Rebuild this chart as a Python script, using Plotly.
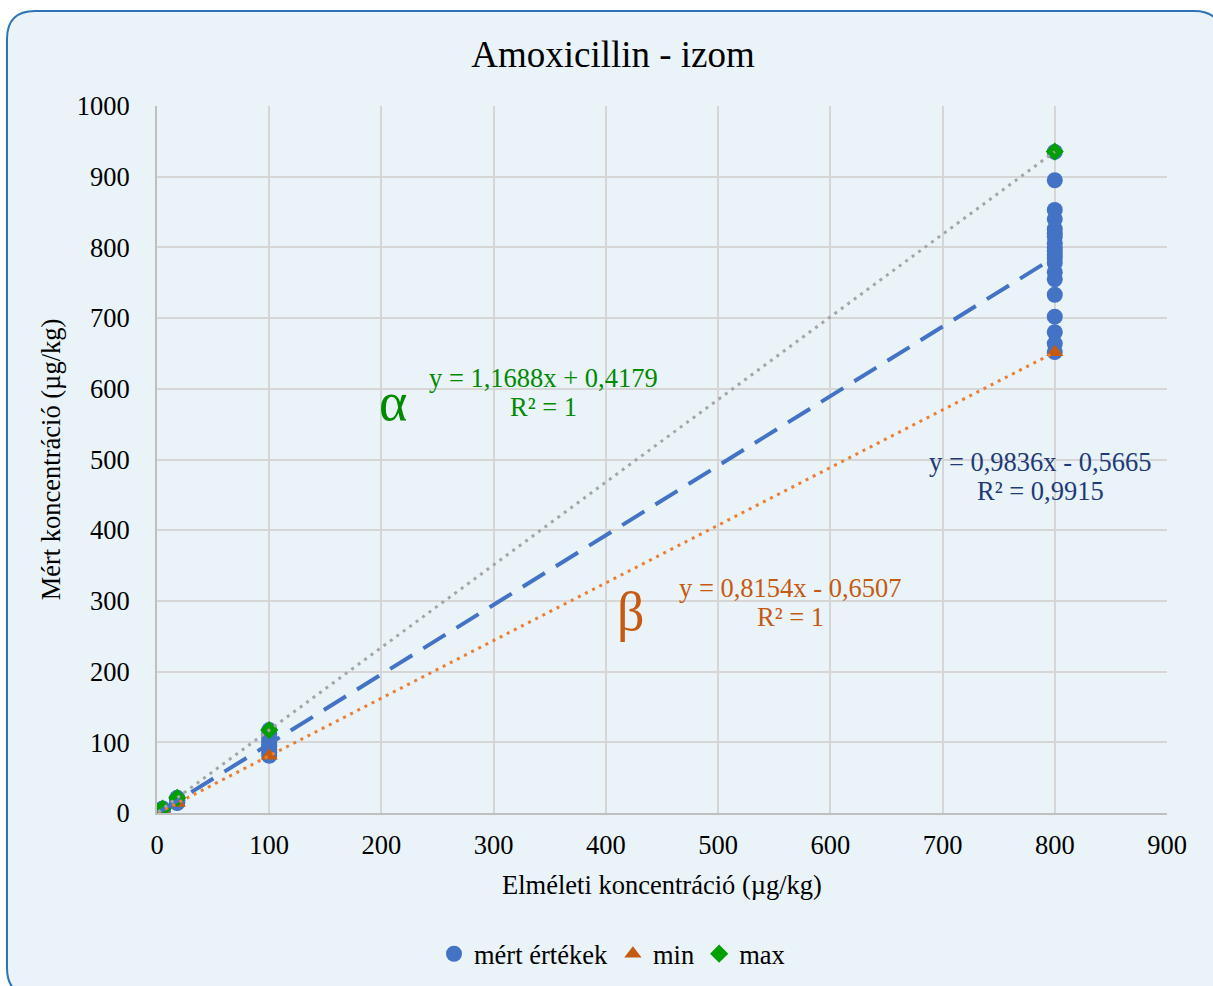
import plotly.graph_objects as go

# Nominal (spiked) concentrations, µg/kg
levels = [1, 5, 18, 100, 800]

# Measured values per nominal level
measured = {
    1: [1.6, 1.2, 1.0, 0.8, 0.5, 0.2],
    5: [6.3, 5.6, 5.0, 4.5, 4.0, 3.4],
    18: [21.4, 20.2, 19.0, 18.0, 17.0, 16.0, 15.0, 14.0],
    100: [117.3, 112, 108, 104, 100, 97, 94, 90, 86, 81],
    800: [935, 895, 853, 840, 826, 820, 815, 806, 800, 795, 790, 785, 778,
          765, 755, 733, 702, 680, 664, 652],
}

# Lowest and highest result at each level
min_vals = [0.2, 3.4, 14.0, 81.0, 651.7]
max_vals = [1.6, 6.3, 21.4, 117.3, 935.5]

# Linear trend coefficients (slope, intercept)
fit_all = (0.9836, -0.5665)
fit_min = (0.8154, -0.6507)
fit_max = (1.1688, 0.4179)

x_ticks = [0, 100, 200, 300, 400, 500, 600, 700, 800, 900]
y_ticks = [0, 100, 200, 300, 400, 500, 600, 700, 800, 900, 1000]

FONT = "Liberation Serif"
BLUE = "#4472C4"
ORANGE = "#C55A11"
ORANGE_LINE = "#ED7D31"
GREEN = "#00A000"
GREY = "#A5A5A5"
BG = "#E9F3F8"
TXT = 26.5

W, H = 1213, 986
ML, MR, MT, MB = 157, 46, 106, 173
PW, PH = W - ML - MR, H - MT - MB


def px_x(p):
    return (p - ML) / PW


def px_y(p):
    return (H - MB - p) / PH


mx, my = [], []
for lv in levels:
    for v in measured[lv]:
        mx.append(lv)
        my.append(v)


def line_pts(fit):
    xs = [levels[0], levels[-1]]
    return xs, [fit[0] * x + fit[1] for x in xs]


fig = go.Figure()

fig.add_trace(go.Scatter(
    x=mx, y=my, mode="markers", name="mért értékek",
    marker=dict(symbol="circle", size=16, color=BLUE, line=dict(width=0)),
))
fig.add_trace(go.Scatter(
    x=levels, y=min_vals, mode="markers", name="min",
    marker=dict(symbol="triangle-up", size=15, color=ORANGE, line=dict(width=0)),
))
fig.add_trace(go.Scatter(
    x=levels, y=max_vals, mode="markers", name="max",
    marker=dict(symbol="diamond", size=14, color=GREEN, line=dict(width=0)),
))

lx, ly = line_pts(fit_all)
fig.add_trace(go.Scatter(x=lx, y=ly, mode="lines", showlegend=False, hoverinfo="skip",
                         line=dict(color=BLUE, width=4, dash="26px,13px")))
lx, ly = line_pts(fit_min)
fig.add_trace(go.Scatter(x=lx, y=ly, mode="lines", showlegend=False, hoverinfo="skip",
                         line=dict(color=ORANGE_LINE, width=3, dash="3px,5px")))
lx, ly = line_pts(fit_max)
fig.add_trace(go.Scatter(x=lx, y=ly, mode="lines", showlegend=False, hoverinfo="skip",
                         line=dict(color=GREY, width=3, dash="3px,5px")))


def eq_lines(fit, r2):
    sign = "+" if fit[1] >= 0 else "-"
    s = f"{fit[0]:.4f}".replace(".", ",")
    i = f"{abs(fit[1]):.4f}".replace(".", ",")
    return [f"y = {s}x {sign} {i}", f"R² = {r2}"]


# (equation lines, centre x, first-line y, colour) in pixels
labels = [
    (eq_lines(fit_max, "1"), 543, 378, "#008A00"),
    (eq_lines(fit_all, "0,9915"), 1040, 462, "#1F3A78"),
    (eq_lines(fit_min, "1"), 790, 588, ORANGE),
]
annotations = []
for lines, cx, cy, col in labels:
    for k, t in enumerate(lines):
        annotations.append(dict(
            xref="paper", yref="paper", x=px_x(cx), y=px_y(cy + 29 * k), text=t,
            showarrow=False, xanchor="center", yanchor="middle",
            font=dict(family=FONT, size=TXT, color=col),
        ))
annotations.append(dict(xref="paper", yref="paper", x=px_x(393), y=px_y(402), text="α",
                        showarrow=False, xanchor="center", yanchor="middle",
                        font=dict(family=FONT, size=54, color="#008A00")))
annotations.append(dict(xref="paper", yref="paper", x=px_x(630), y=px_y(612), text="β",
                        showarrow=False, xanchor="center", yanchor="middle",
                        font=dict(family=FONT, size=54, color=ORANGE)))

# Rounded frame of the chart area
L, T, R, B, rad = 7, 11, 1222, 996, 28
rx, ry = rad / PW, rad / PH
x0, x1, y0, y1 = px_x(L), px_x(R), px_y(B), px_y(T)
frame = (f"M {x0+rx},{y1} L {x1-rx},{y1} Q {x1},{y1} {x1},{y1-ry} "
         f"L {x1},{y0+ry} Q {x1},{y0} {x1-rx},{y0} "
         f"L {x0+rx},{y0} Q {x0},{y0} {x0},{y0+ry} "
         f"L {x0},{y1-ry} Q {x0},{y1} {x0+rx},{y1} Z")

fig.update_layout(
    width=W, height=H,
    margin=dict(l=ML, r=MR, t=MT, b=MB, autoexpand=False),
    paper_bgcolor="white",
    plot_bgcolor="rgba(0,0,0,0)",
    font=dict(family=FONT, size=TXT, color="black"),
    title=dict(text="Amoxicillin - izom", xref="container", yref="container",
               x=613 / W, y=1 - 54 / H, xanchor="center", yanchor="middle",
               font=dict(family=FONT, size=37, color="black")),
    shapes=[dict(type="path", path=frame, xref="paper", yref="paper", layer="below",
                 fillcolor=BG, line=dict(color="#2E74B5", width=2))],
    annotations=annotations,
    showlegend=True,
    legend=dict(orientation="h", xref="container", yref="container",
                x=612 / W, y=(H - 954) / H, xanchor="center", yanchor="middle",
                bgcolor="rgba(0,0,0,0)", font=dict(family=FONT, size=TXT, color="black"),
                itemwidth=30, tracegroupgap=0),
    xaxis=dict(range=[0, 900], tickvals=x_ticks, showgrid=True, gridcolor="#D6D6D6", gridwidth=1.5,
               zeroline=False, showline=True, linecolor="#BFBFBF", linewidth=2,
               ticks="", ticklabelstandoff=7, tickfont=dict(size=TXT),
               title=dict(text="Elméleti koncentráció (µg/kg)", standoff=17,
                          font=dict(family=FONT, size=TXT))),
    yaxis=dict(range=[0, 1000], tickvals=y_ticks, showgrid=True, gridcolor="#D6D6D6", gridwidth=1.5,
               zeroline=False, showline=True, linecolor="#BFBFBF", linewidth=2,
               ticks="", ticklabelstandoff=20, tickfont=dict(size=TXT),
               title=dict(text="Mért koncentráció (µg/kg)", standoff=8,
                          font=dict(family=FONT, size=TXT))),
)

fig.write_html("out.html")
